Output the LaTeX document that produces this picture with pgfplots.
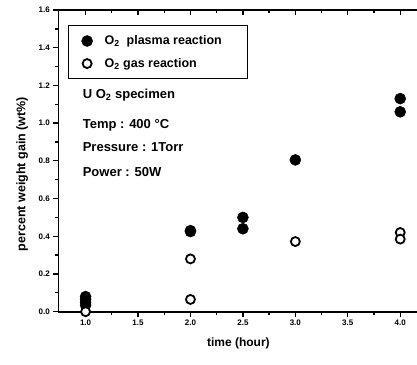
\documentclass[border=0pt]{standalone}
\usepackage{pgfplots}
\pgfplotsset{compat=1.18}
\usepackage{fontspec}
\setmainfont{Liberation Sans}
\begin{document}
\begin{tikzpicture}
\begin{axis}[name=ax, scale only axis, width=358.7pt, height=301.7pt,
  xmin=0.74, xmax=4.16, ymin=0, ymax=1.6, clip=false,
  axis x line*=bottom, axis y line*=left,
  axis line style={-, line width=1.6pt},
  xtick={1,1.5,2,2.5,3,3.5,4}, ytick={0,0.2,0.4,0.6,0.8,1.0,1.2,1.4,1.6},
  minor x tick num=1, minor y tick num=1,
  tick align=outside, major tick length=5pt, minor tick length=3pt,
  every tick/.style={black, line width=1.3pt},
  tick label style={font=\bfseries\fontsize{8}{9}\selectfont},
  /pgf/number format/.cd, fixed, fixed zerofill, precision=1, assume math mode=true, /pgfplots/.cd,
  xlabel={time (hour)}, ylabel={percent weight gain (wt\%)},
  xlabel style={font=\bfseries\fontsize{12}{14}\selectfont, at={(axis description cs:0.502,-0.104)}, anchor=center},
  ylabel style={font=\bfseries\fontsize{12.5}{14}\selectfont, at={(axis description cs:-0.101,0.456)}, anchor=center},
  legend style={at={(axis description cs:0.027,0.950)}, anchor=north west, draw=black, line width=1.3pt,
    font=\bfseries\fontsize{12.5}{14}\selectfont, inner xsep=13pt, inner ysep=8pt, row sep=8pt,
    cells={anchor=west}},
  legend cell align=left,
]
\addplot[only marks, mark=*, mark size=5.5pt, mark options={fill=black, draw=black, line width=0.5pt}]
  coordinates {(1,0.08)(1,0.065)(1,0.05)(1,0.035)(2,0.43)(2,0.425)(2.5,0.50)(2.5,0.44)(3,0.805)(4,1.13)(4,1.06)};
\addlegendentry{\makebox[138pt][l]{\hspace{10pt}O\textsubscript{2}\ \ plasma reaction}}
\addplot[only marks, mark=*, mark size=4.5pt, mark options={fill=white, draw=black, line width=1.8pt}]
  coordinates {(1,0.0)(2,0.28)(2,0.065)(3,0.372)(4,0.42)(4,0.385)};
\addlegendentry{\makebox[138pt][l]{\hspace{10pt}O\textsubscript{2} gas reaction}}
\node[anchor=base west, font=\bfseries\fontsize{13}{15}\selectfont] at (axis cs:0.94,1.133) {U O\textsubscript{2} specimen};
\node[anchor=base west, font=\bfseries\fontsize{13}{15}\selectfont] at (axis cs:0.94,0.972) {Temp : 400 °C};
\node[anchor=base west, font=\bfseries\fontsize{13}{15}\selectfont] at (axis cs:0.94,0.848) {Pressure : 1Torr};
\node[anchor=base west, font=\bfseries\fontsize{13}{15}\selectfont] at (axis cs:0.94,0.716) {Power : 50W};
\end{axis}
\begin{axis}[scale only axis, width=358.7pt, height=301.7pt,
  xmin=0.74, xmax=4.16, ymin=0, ymax=1.6,
  axis x line*=top, axis y line=none,
  axis line style={-, line width=1.6pt},
  xtick={1,1.5,2,2.5,3,3.5,4}, xticklabels={}, minor x tick num=1,
  tick align=inside, major tick length=5pt, minor tick length=3pt,
  every tick/.style={black, line width=1.3pt},
]
\end{axis}
\pgfresetboundingbox
\path (ax.south west) ++(-58.3pt,-52.3pt) rectangle ++(417pt,364pt);
\end{tikzpicture}
\end{document}
